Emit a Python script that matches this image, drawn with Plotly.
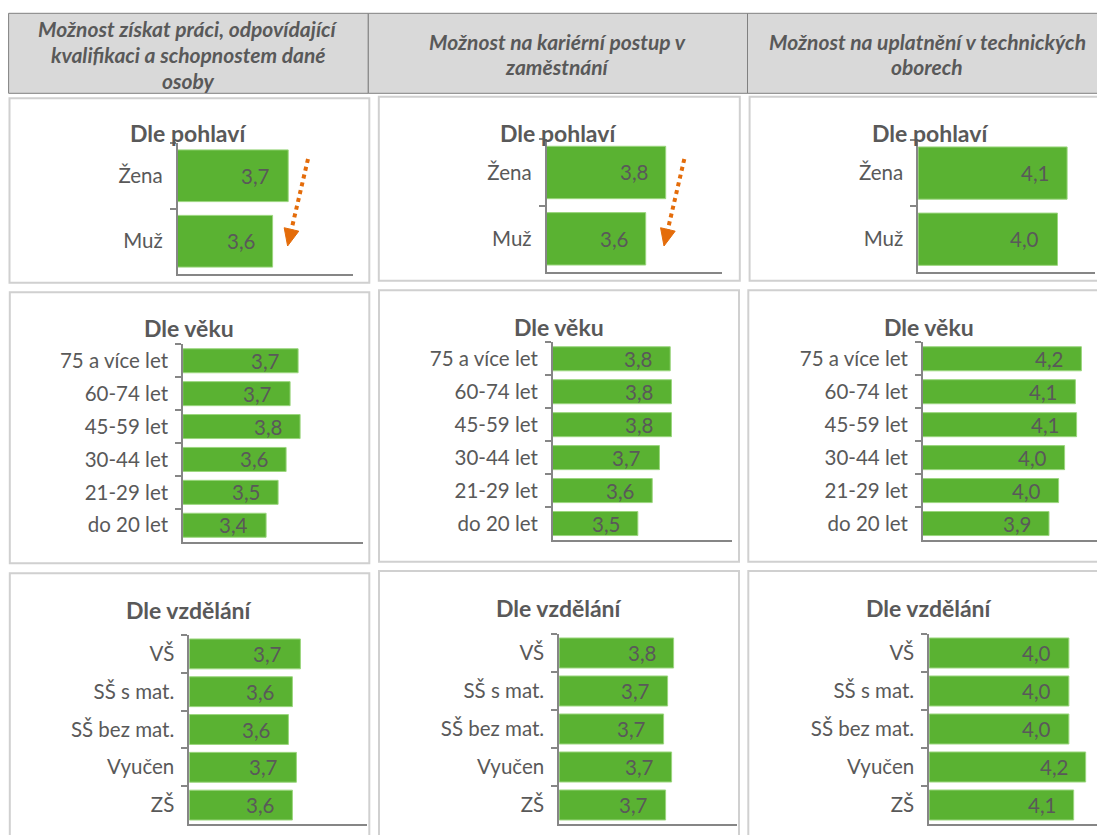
import plotly.graph_objects as go

# ---------------- data ----------------
col_headers = [
    ["Možnost získat práci, odpovídající", "kvalifikaci a schopnostem dané", "osoby"],
    ["Možnost na kariérní postup v", "zaměstnání"],
    ["Možnost na uplatnění v technických", "oborech"],
]
row_titles = ["Dle pohlaví", "Dle věku", "Dle vzdělání"]

cats_gender = ["Žena", "Muž"]
cats_age = ["75 a více let", "60-74 let", "45-59 let", "30-44 let", "21-29 let", "do 20 let"]
cats_edu = ["VŠ", "SŠ s mat.", "SŠ bez mat.", "Vyučen", "ZŠ"]

# column 1: práce odpovídající kvalifikaci
prace_gender = [3.70, 3.57]
prace_age = [3.74, 3.66, 3.76, 3.62, 3.54, 3.42]
prace_edu = [3.71, 3.63, 3.59, 3.67, 3.63]
# column 2: kariérní postup
kariera_gender = [3.80, 3.60]
kariera_age = [3.76, 3.77, 3.77, 3.67, 3.61, 3.49]
kariera_edu = [3.76, 3.70, 3.66, 3.74, 3.68]
# column 3: uplatnění v technických oborech
tech_gender = [4.10, 4.02]
tech_age = [4.17, 4.12, 4.13, 4.03, 3.98, 3.90]
tech_edu = [4.03, 4.03, 4.03, 4.17, 4.07]

row_cats = [cats_gender, cats_age, cats_edu]
grid_values = [
    [prace_gender, kariera_gender, tech_gender],
    [prace_age, kariera_age, tech_age],
    [prace_edu, kariera_edu, tech_edu],
]

# ---------------- layout geometry (page pixels) ----------------
W, H = 1097, 835

# plot area per panel: x0, x1, ytop, ybot, axis min, px per unit
geom = [
    [(177.8, 352.5, 143.0, 274.0, 2.78, 120), (546.7, 722.3, 139.3, 272.0, 2.61, 100), (918.3, 1095.0, 140.0, 272.3, 2.86, 120)],
    [(183.1, 363.0, 344.3, 541.7, 2.59, 100), (553.0, 732.3, 342.3, 540.0, 2.783, 120), (923.0, 1097.0, 342.3, 540.0, 2.85, 120)],
    [(189.4, 366.5, 635.0, 824.0, 2.60, 100), (559.3, 736.7, 634.0, 824.0, 2.617, 100), (929.3, 1097.0, 634.0, 824.0, 2.867, 120)],
]
bar_width = [0.79, 0.73, 0.79]
title_pos = [
    [(188, 133), (558.3, 132.7), (930, 133)],
    [(188.7, 328.3), (559, 326.7), (929, 326.7)],
    [(188.7, 610), (559, 608.3), (929, 608.3)],
]
panel_rects = [
    [(9.5, 98.3, 369.3, 282.7), (378.8, 96.7, 739.8, 280.7), (749.6, 96.7, 1112, 280.7)],
    [(9.8, 292.3, 369.3, 563.3), (379, 290.3, 739, 561.7), (748.3, 290.3, 1112, 561.7)],
    [(9.8, 573.3, 369.3, 860), (379, 571, 739, 860), (748.3, 571, 1112, 860)],
]
header_cells = [(8.6, 13.3, 368.3, 93.3), (368.3, 13.3, 747.5, 93.3), (747.5, 13.3, 1108, 93.3)]
header_centers = [188.2, 557.9, 927.0]
header_line_y = [[28.3, 54.3, 80.5], [41.7, 66.7], [41.7, 66.7]]

GREEN = "#5AB232"
GRAY_TXT = "#595959"
AXIS = "#868686"
ORANGE = "#E46C0A"
FONT = "Lato"


def px(x):
    return x / W


def py(y):
    return 1 - y / H


fig = go.Figure()
layout = {}
annotations = []
shapes = []

# header cells
for (x0, y0, x1, y1) in header_cells:
    shapes.append(dict(type="rect", xref="paper", yref="paper", x0=px(x0), x1=px(x1), y0=py(y1), y1=py(y0),
                       fillcolor="#D9D9D9", line=dict(color="#808080", width=1), layer="below"))
for c, lines in enumerate(col_headers):
    for line, ly in zip(lines, header_line_y[c]):
        annotations.append(dict(xref="paper", yref="paper", x=px(header_centers[c]), y=py(ly), text="<b><i>" + line + "</i></b>",
                                showarrow=False, xanchor="center", yanchor="middle",
                                font=dict(family=FONT, size=21, color=GRAY_TXT)))

idx = 0
for r in range(3):
    cats = row_cats[r]
    for c in range(3):
        idx += 1
        vals = grid_values[r][c]
        x0, x1, yt, yb, lo, k = geom[r][c]
        x1 = min(x1, W)
        xa = "x" if idx == 1 else f"x{idx}"
        ya = "y" if idx == 1 else f"y{idx}"
        fig.add_trace(go.Bar(x=vals, y=cats, orientation="h", xaxis=xa, yaxis=ya,
                             marker=dict(color=GREEN, line=dict(color="#9BD67E", width=1)),
                             width=bar_width[r], hoverinfo="skip", showlegend=False))
        layout["xaxis" if idx == 1 else f"xaxis{idx}"] = dict(
            domain=[px(x0), px(x1)], range=[lo, lo + (x1 - x0) / k], anchor=ya,
            showline=True, linecolor=AXIS, linewidth=2, showticklabels=False, ticks="",
            showgrid=False, zeroline=False, fixedrange=True)
        layout["yaxis" if idx == 1 else f"yaxis{idx}"] = dict(
            domain=[py(yb), py(yt)], anchor=xa, type="category",
            categoryorder="array", categoryarray=cats, autorange="reversed",
            showline=True, linecolor=AXIS, linewidth=2,
            ticks="outside", ticklen=6, tickwidth=1.5, tickcolor=AXIS, tickson="boundaries",
            ticklabelstandoff=9,
            tickfont=dict(family=FONT, size=20.5, color=GRAY_TXT),
            showgrid=False, zeroline=False, fixedrange=True)
        # value labels
        for j, v in enumerate(vals):
            annotations.append(dict(xref=xa, yref=ya, x=v, y=j, text=f"{v:.1f}".replace(".", ","),
                                    showarrow=False, xanchor="right", yanchor="middle", xshift=-16,
                                    font=dict(family=FONT, size=20.5, color=GRAY_TXT)))
        # panel title
        tx, ty = title_pos[r][c]
        annotations.append(dict(xref="paper", yref="paper", x=px(tx), y=py(ty), text="<b>" + row_titles[r] + "</b>",
                                showarrow=False, xanchor="center", yanchor="middle",
                                font=dict(family=FONT, size=23, color=GRAY_TXT)))
        # panel frame
        bx0, by0, bx1, by1 = panel_rects[r][c]
        shapes.append(dict(type="rect", xref="paper", yref="paper", x0=px(bx0), x1=px(bx1), y0=py(by1), y1=py(by0),
                           line=dict(color="#D0D0D0", width=2), fillcolor="rgba(0,0,0,0)", layer="below"))

# orange dotted arrows (decoration)
arrows = [((308, 159), (287.6, 246)), ((684.3, 159), (664, 246))]
for (sx, sy), (tx, ty) in arrows:
    dx, dy = tx - sx, ty - sy
    L = (dx * dx + dy * dy) ** 0.5
    ux, uy = dx / L, dy / L
    hl, hw = 17, 7.5
    bx, by = tx - ux * hl, ty - uy * hl
    nx, ny = -uy, ux
    shapes.append(dict(type="line", xref="paper", yref="paper", x0=px(sx), y0=py(sy), x1=px(bx), y1=py(by),
                       line=dict(color=ORANGE, width=4, dash="dot")))
    path = (f"M {px(tx)},{py(ty)} L {px(bx + nx * hw)},{py(by + ny * hw)} "
            f"L {px(bx - nx * hw)},{py(by - ny * hw)} Z")
    shapes.append(dict(type="path", xref="paper", yref="paper", path=path, fillcolor=ORANGE,
                       line=dict(color=ORANGE, width=1)))

fig.update_layout(
    width=W, height=H, margin=dict(l=0, r=0, t=0, b=0),
    paper_bgcolor="white", plot_bgcolor="rgba(0,0,0,0)",
    showlegend=False, annotations=annotations, shapes=shapes,
    font=dict(family=FONT, color=GRAY_TXT),
    **layout,
)

page_style = ("document.body.style.margin='0';document.body.style.overflow='hidden';"
              "document.documentElement.style.overflow='hidden';")
fig.write_html("out.html", post_script=page_style, config={"displayModeBar": False})
